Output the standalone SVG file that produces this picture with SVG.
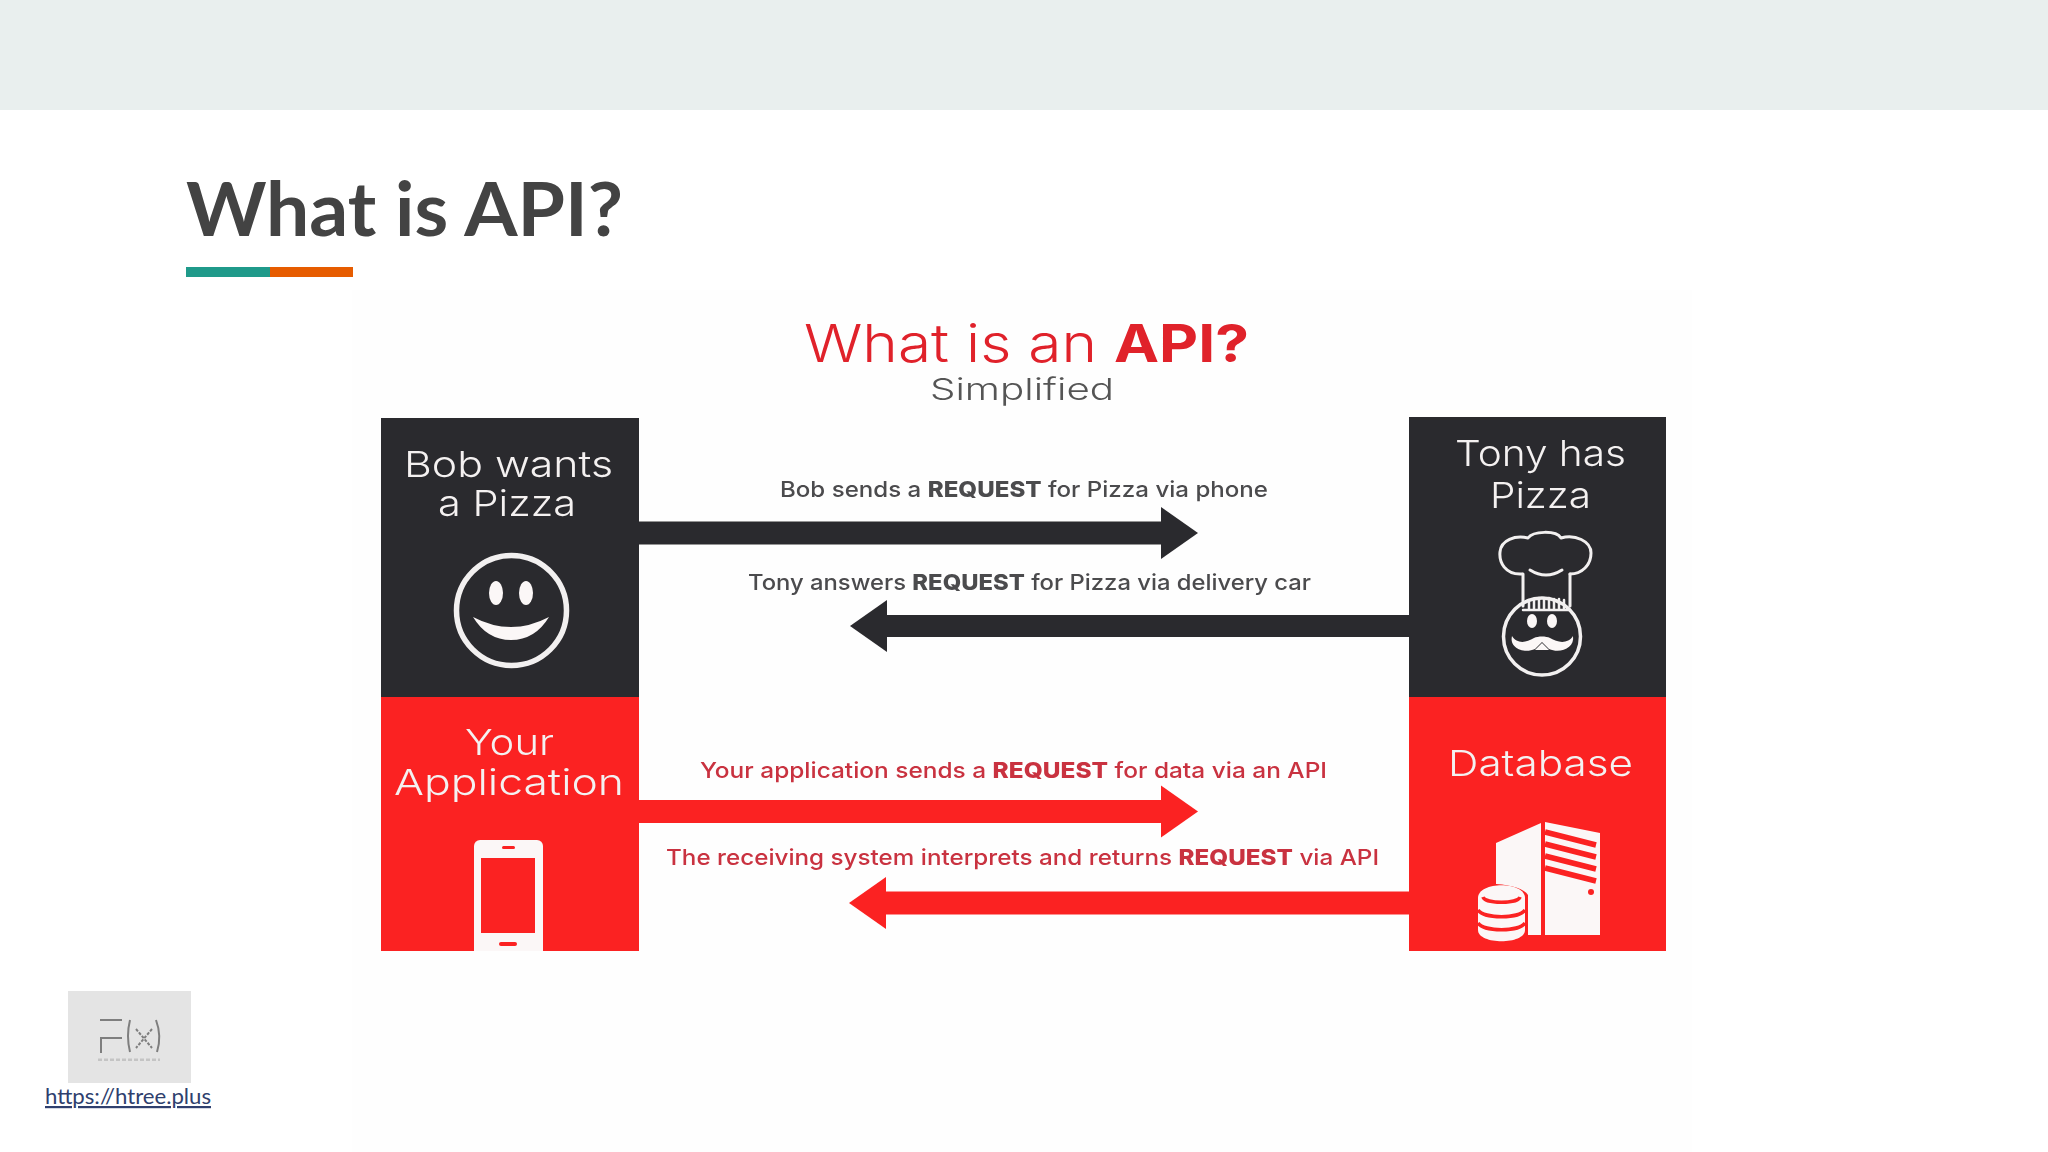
<svg xmlns="http://www.w3.org/2000/svg" width="2048" height="1152" viewBox="0 0 2048 1152">
<style>
text{font-family:"Inter","Noto Sans","Liberation Sans",sans-serif}
.box{font-size:36px;font-weight:300;fill:#f4f1f1}
.lbl{font-size:22px;font-weight:500}
.d{fill:#4c4b4e}.r{fill:#c9323f}
.b{font-weight:800}
.w{fill:none;stroke:#f2f0f0;stroke-linecap:round;stroke-linejoin:round}
.wf{fill:#fbf7f7}
.rf{fill:#fb2121}.kf{fill:#2b2a2e}
</style>
<defs>
<filter id="soft" x="-2%" y="-2%" width="104%" height="104%"><feGaussianBlur stdDeviation="0.7"/></filter>
<marker id="hk" markerUnits="userSpaceOnUse" markerWidth="38" markerHeight="54" refX="0" refY="27" orient="auto"><path d="M0 1L37 27L0 53Z" fill="#2b2a2e"/></marker>
<marker id="hr" markerUnits="userSpaceOnUse" markerWidth="38" markerHeight="54" refX="0" refY="27" orient="auto"><path d="M0 1L37 27L0 53Z" fill="#fb2121"/></marker>
<clipPath id="lb"><rect x="381" y="697" width="258" height="254"/></clipPath>
</defs>
<rect width="2048" height="1152" fill="#fff"/>
<rect width="2048" height="110" fill="#e9efee"/>
<rect x="352" y="290" width="1340" height="862" fill="#fefefe"/>
<text id="title" x="186" y="236" font-size="74" font-weight="700" fill="#434343" style="font-family:'Lato','Liberation Sans',sans-serif" textLength="437" lengthAdjust="spacingAndGlyphs">What is API?</text>
<rect x="186" y="267" width="84" height="10" fill="#1f9a8a"/>
<rect x="270" y="267" width="83" height="10" fill="#e65c00"/>

<g filter="url(#soft)">
<g id="heading">
<text x="804" y="362" font-size="52" font-weight="300" fill="#e0202c" textLength="445" lengthAdjust="spacingAndGlyphs">What is an <tspan font-weight="700">API?</tspan></text>
<text x="930" y="400" font-size="30" font-weight="300" fill="#555" textLength="184" lengthAdjust="spacingAndGlyphs">Simplified</text>
</g>
<g id="connectors" fill="none">
<line x1="638" y1="533" x2="1161" y2="533" stroke="#2b2a2e" stroke-width="23" marker-end="url(#hk)"/>
<line x1="1409" y1="626" x2="887" y2="626" stroke="#2b2a2e" stroke-width="22" marker-end="url(#hk)"/>
<line x1="638" y1="811.500" x2="1161" y2="811.500" stroke="#fb2121" stroke-width="23" marker-end="url(#hr)"/>
<line x1="1409" y1="903" x2="886" y2="903" stroke="#fb2121" stroke-width="23" marker-end="url(#hr)"/>
</g>
<g id="labels">
<text class="lbl d" x="780" y="497" textLength="488" lengthAdjust="spacingAndGlyphs">Bob sends a <tspan class="b">REQUEST</tspan> for Pizza via phone</text>
<text class="lbl d" x="748" y="590" textLength="563" lengthAdjust="spacingAndGlyphs">Tony answers <tspan class="b">REQUEST</tspan> for Pizza via delivery car</text>
<text class="lbl r" x="700" y="778" textLength="627" lengthAdjust="spacingAndGlyphs">Your application sends a <tspan class="b">REQUEST</tspan> for data via an API</text>
<text class="lbl r" x="666" y="865" textLength="713" lengthAdjust="spacingAndGlyphs">The receiving system interprets and returns <tspan class="b">REQUEST</tspan> via API</text>
</g>
<g id="node-bob">
<rect class="kf" x="381" y="418" width="258" height="279"/>
<text class="box" x="404" y="477" textLength="209" lengthAdjust="spacingAndGlyphs">Bob wants</text>
<text class="box" x="438" y="516" textLength="138" lengthAdjust="spacingAndGlyphs">a Pizza</text>
<circle class="w" cx="511.500" cy="610.500" r="55" stroke-width="5.500"/>
<ellipse class="wf" cx="496" cy="593" rx="7" ry="12"/>
<ellipse class="wf" cx="526" cy="593" rx="7" ry="12"/>
<path class="wf" d="M473 617Q511 637 549 617Q535 640 511 640Q487 640 473 617Z"/>
</g>
<g id="node-tony">
<rect class="kf" x="1409" y="417" width="257" height="280"/>
<text class="box" x="1455" y="466" textLength="171" lengthAdjust="spacingAndGlyphs">Tony has</text>
<text class="box" x="1490" y="508" textLength="101" lengthAdjust="spacingAndGlyphs">Pizza</text>
<g class="w" stroke-width="3">
<path d="M1522 574C1505 575 1499 562 1500 552C1501 540 1515 535 1528 538C1533 531 1556 530 1561 538C1575 534 1591 541 1591 553C1591 565 1582 574 1570 574"/>
<path d="M1530 570Q1546 580 1562 570"/>
<path d="M1523 574V606M1570 574V606"/>
<circle cx="1542" cy="636.500" r="38.500" stroke-width="3.500"/>
<path d="M1523 610H1570M1529 600V610M1534 599V610M1539 598V610M1544 598V610M1549 598V610M1554 599V610M1559 599V610M1564 600V610" stroke-width="2.500"/>
</g>
<ellipse class="wf" cx="1532" cy="621" rx="5" ry="7"/>
<ellipse class="wf" cx="1552" cy="621" rx="5" ry="7"/>
<path class="wf" d="M1512 636C1509 648 1524 654 1535 649L1542 642L1549 649C1560 654 1575 648 1573 636C1568 644 1558 643 1550 638C1546 636 1538 636 1534 638C1526 643 1517 644 1512 636Z"/>
<path class="wf" d="M1535 650L1542 643L1549 650Z"/>
</g>
<g id="node-application">
<rect class="rf" x="381" y="697" width="258" height="254"/>
<text class="box" x="465" y="755" textLength="89" lengthAdjust="spacingAndGlyphs">Your</text>
<text class="box" x="394" y="795" textLength="230" lengthAdjust="spacingAndGlyphs">Application</text>
<g clip-path="url(#lb)">
<rect class="wf" x="474" y="840" width="69" height="125" rx="6"/>
<rect class="rf" x="481" y="858" width="54" height="75"/>
<rect class="rf" x="502" y="846" width="13" height="3" rx="1.500"/>
<rect class="rf" x="499" y="942" width="18" height="4" rx="2"/>
</g>
</g>
<g id="node-database">
<rect class="rf" x="1409" y="697" width="257" height="254"/>
<text class="box" x="1448" y="776" textLength="185" lengthAdjust="spacingAndGlyphs">Database</text>
<path class="wf" d="M1496 843L1541 823V935H1528V895Q1522 886 1496 884Z"/>
<path class="wf" d="M1545 822L1600 833V935H1545Z"/>
<g fill="none" stroke="#fb2121" stroke-width="6">
<path d="M1545 832L1596 845M1545 844L1596 857M1545 856L1596 869M1545 868L1596 881" stroke-width="5.500"/>
</g>
<circle class="rf" cx="1591" cy="892" r="3"/>
<path class="wf" d="M1478 898C1478 881 1525 881 1525 898V930C1525 945 1478 945 1478 930Z"/>
<g fill="none" stroke="#fb2121" stroke-width="3.500">
<path d="M1483 897C1485 904 1518 904 1520 897"/>
<path d="M1478 910C1484 919 1519 919 1525 910"/>
<path d="M1478 923C1484 932 1519 932 1525 923"/>
</g>
</g>
</g>
<g id="logo">
<rect x="68" y="991" width="123" height="92" fill="#e4e4e4"/>
<g fill="none" stroke="#7e7e7e" stroke-width="2" filter="url(#soft)">
<path d="M100 1020H122M122 1038H101V1053"/>
<path d="M130 1020Q126 1036 130 1052M156 1020Q162 1036 157 1052"/>
<path d="M136 1029L152 1048M152 1029L136 1048" stroke-dasharray="3 1.500"/>
<path d="M98 1060H160" stroke="#c4c4c4" stroke-width="3" stroke-dasharray="4 2"/>
</g>
</g>
<text id="link" x="45" y="1104" font-size="22" fill="#2f3f6e" text-decoration="underline" style="font-family:'Lato','Liberation Sans',sans-serif" textLength="166" lengthAdjust="spacingAndGlyphs">https://htree.plus</text>
</svg>
